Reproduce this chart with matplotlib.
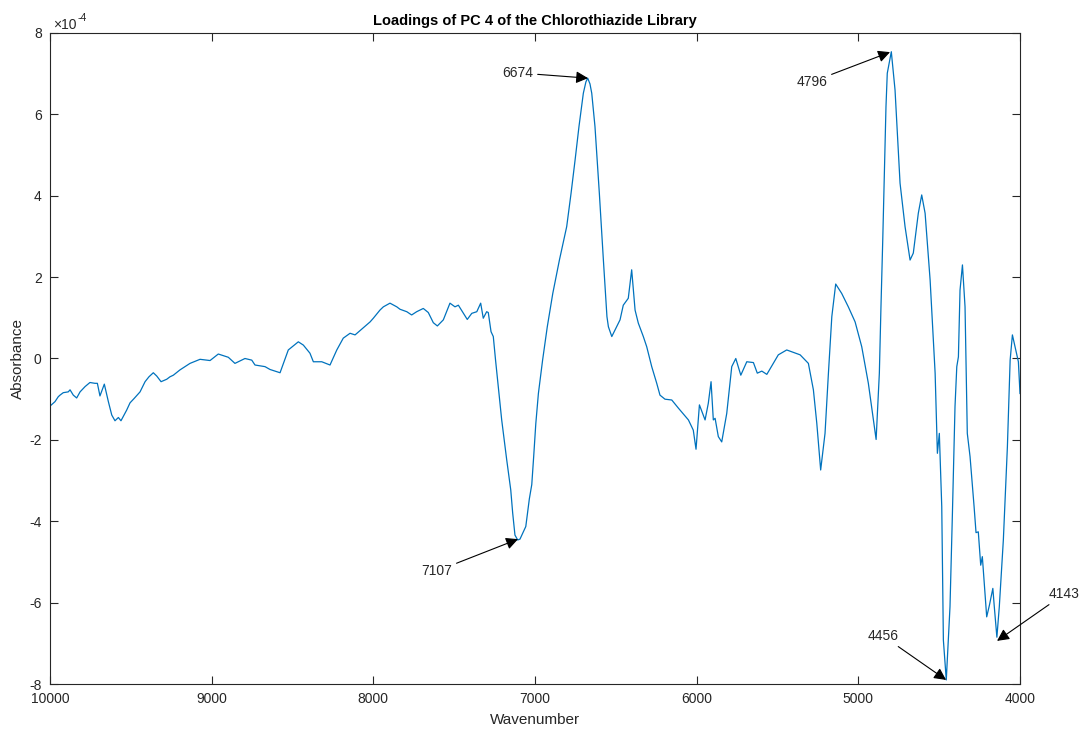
import numpy as np
import matplotlib
matplotlib.use('Agg')
from matplotlib import pyplot as plt
from matplotlib.ticker import FuncFormatter

# wavenumber (cm-1) and loading values (x 1e-4)
wavenumber = [10000, 9969, 9949, 9938, 9918, 9887, 9876, 9856, 9835, 9814, 9783, 9753,
              9722, 9707, 9691, 9664, 9639, 9618, 9598, 9577, 9561, 9526, 9505, 9479,
              9443, 9412, 9388, 9361, 9340, 9313, 9278, 9258, 9237, 9196, 9134, 9072,
              9010, 8959, 8897, 8856, 8794, 8752, 8732, 8670, 8639, 8577, 8526, 8464,
              8433, 8392, 8371, 8319, 8268, 8226, 8186, 8144, 8113, 8072, 8020, 8000,
              7959, 7938, 7897, 7855, 7835, 7793, 7763, 7732, 7691, 7660, 7629, 7604,
              7567, 7526, 7495, 7474, 7443, 7419, 7391, 7360, 7336, 7320, 7299, 7289,
              7272, 7258, 7244, 7206, 7175, 7150, 7138, 7124, 7107, 7093, 7057, 7035,
              7020, 7008, 6995, 6979, 6953, 6924, 6890, 6849, 6804, 6777, 6752, 6728,
              6701, 6685, 6674, 6660, 6649, 6629, 6602, 6577, 6555, 6546, 6525, 6505,
              6474, 6454, 6423, 6402, 6381, 6361, 6330, 6309, 6278, 6247, 6227, 6196,
              6154, 6113, 6051, 6021, 6004, 5983, 5948, 5928, 5911, 5897, 5886, 5866,
              5845, 5814, 5783, 5758, 5727, 5690, 5649, 5625, 5597, 5566, 5495, 5443,
              5360, 5309, 5278, 5257, 5233, 5206, 5185, 5164, 5140, 5103, 5062, 5020,
              4979, 4938, 4907, 4890, 4870, 4860, 4849, 4839, 4829, 4821, 4796, 4773,
              4742, 4711, 4680, 4660, 4629, 4608, 4587, 4556, 4525, 4511, 4499, 4484,
              4474, 4456, 4433, 4418, 4402, 4391, 4381, 4371, 4356, 4340, 4326, 4309,
              4284, 4272, 4258, 4243, 4233, 4206, 4189, 4168, 4159, 4143, 4128, 4103,
              4078, 4061, 4047, 4031, 4010, 4000]
loading = [-1.17, -1.06, -0.94, -0.90, -0.84, -0.82, -0.77, -0.90, -0.97, -0.82, -0.69, -0.59,
           -0.61, -0.61, -0.92, -0.63, -1.06, -1.39, -1.53, -1.45, -1.53, -1.27, -1.09, -0.98,
           -0.82, -0.57, -0.45, -0.35, -0.43, -0.57, -0.51, -0.45, -0.41, -0.28, -0.12, -0.02,
           -0.05, 0.11, 0.03, -0.12, 0.00, -0.04, -0.16, -0.20, -0.27, -0.35, 0.21, 0.41,
           0.33, 0.13, -0.08, -0.08, -0.16, 0.21, 0.50, 0.62, 0.58, 0.72, 0.90, 0.99,
           1.19, 1.27, 1.36, 1.27, 1.21, 1.15, 1.07, 1.15, 1.23, 1.13, 0.88, 0.80,
           0.95, 1.36, 1.27, 1.31, 1.11, 0.96, 1.11, 1.15, 1.36, 0.99, 1.15, 1.13,
           0.66, 0.54, -0.04, -1.51, -2.49, -3.23, -3.80, -4.34, -4.46, -4.44, -4.13, -3.45,
           -3.10, -2.40, -1.60, -0.86, -0.04, 0.78, 1.60, 2.42, 3.24, 4.06, 4.88, 5.70,
           6.52, 6.80, 6.89, 6.75, 6.52, 5.70, 4.06, 2.42, 1.03, 0.78, 0.54, 0.70,
           0.95, 1.31, 1.48, 2.18, 1.19, 0.87, 0.54, 0.29, -0.20, -0.61, -0.90, -1.00,
           -1.02, -1.22, -1.51, -1.76, -2.23, -1.14, -1.51, -1.10, -0.57, -1.51, -1.47, -1.92,
           -2.05, -1.35, -0.20, 0.00, -0.41, -0.08, -0.10, -0.36, -0.31, -0.39, 0.09, 0.21,
           0.09, -0.12, -0.77, -1.59, -2.74, -1.84, -0.36, 1.03, 1.83, 1.60, 1.27, 0.90,
           0.29, -0.61, -1.51, -1.99, -0.36, 1.27, 2.91, 4.55, 6.19, 7.01, 7.54, 6.60,
           4.31, 3.24, 2.42, 2.59, 3.57, 4.02, 3.57, 1.93, -0.36, -2.33, -1.84, -3.64,
           -6.92, -7.90, -6.10, -3.80, -1.18, -0.20, 0.04, 1.68, 2.30, 1.27, -1.84, -2.41,
           -3.64, -4.28, -4.26, -5.08, -4.87, -6.35, -6.06, -5.65, -6.10, -6.85, -6.10, -4.46,
           -2.17, -0.04, 0.58, 0.29, -0.08, -0.86]

# labelled extremes: (label, peak wavenumber, peak value, text wavenumber, text value)
peak_labels = ['6674', '4796', '7107', '4456', '4143']
peak_x = [6672, 4804, 7105, 4457, 4142]
peak_y = [6.89, 7.53, -4.44, -7.90, -6.94]
text_x = [7105, 5286, 7606, 4847, 3727]
text_y = [7.02, 6.80, -5.22, -6.82, -5.79]

plt.rcParams['font.family'] = ['Liberation Sans', 'DejaVu Sans']
plt.rcParams['axes.unicode_minus'] = False
axcol = '#262626'

fig = plt.figure(figsize=(10.82, 7.29), dpi=100)
ax = fig.add_axes([50/1082, 45/729, 970/1082, 651/729])

x = np.array(wavenumber)
y = np.array(loading) * 1e-4
ax.plot(x, y, color='#0072BD', lw=0.9)

for lab, px, py, tx, ty in zip(peak_labels, peak_x, peak_y, text_x, text_y):
    ax.annotate(lab, xy=(px, py * 1e-4), xytext=(tx, ty * 1e-4),
                ha='center', va='center', fontsize=10, color=axcol,
                annotation_clip=False,
                arrowprops=dict(arrowstyle='-|>', color='black', lw=0.8,
                                mutation_scale=18, shrinkA=1, shrinkB=0))

ax.set_xlim(10000, 4000)
ax.set_ylim(-8e-4, 8e-4)
ax.set_xticks(np.arange(4000, 10001, 1000))
ax.set_yticks(np.arange(-8, 9, 2) * 1e-4)
ax.yaxis.set_major_formatter(FuncFormatter(lambda v, p: '%d' % round(v * 1e4)))

# exponent label like matlab
ax.annotate('\u00d710', xy=(0, 1), xycoords='axes fraction', xytext=(2, 3),
            textcoords='offset points', fontsize=10, color=axcol, ha='left', va='baseline')
ax.annotate('-4', xy=(0, 1), xycoords='axes fraction', xytext=(19.5, 8.5),
            textcoords='offset points', fontsize=7.5, color=axcol, ha='left', va='baseline')

ax.tick_params(direction='in', top=True, right=True, length=6, width=0.8,
               labelsize=10, colors=axcol, pad=6)
for s in ax.spines.values():
    s.set_color(axcol)
    s.set_linewidth(0.8)

ax.set_xlabel('Wavenumber', fontsize=11, color=axcol)
ax.set_ylabel('Absorbance', fontsize=11, color=axcol)
ax.xaxis.set_label_coords(0.5, -0.0445)
ax.yaxis.set_label_coords(-0.026, 0.5)
ax.set_title('Loadings of PC 4 of the Chlorothiazide Library', fontsize=10.5,
             fontweight='bold', color='black', pad=6)

fig.savefig('out.png', dpi=100)
